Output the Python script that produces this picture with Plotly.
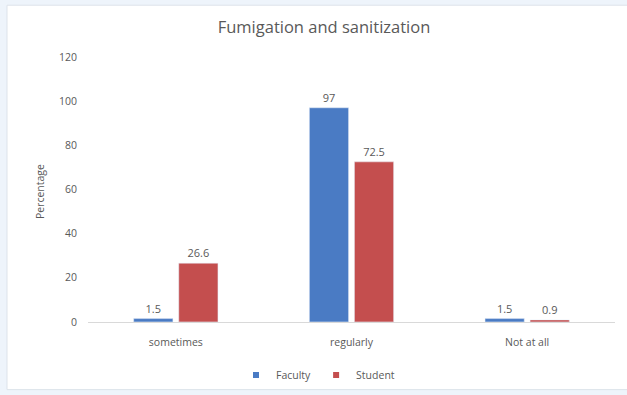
import plotly.graph_objects as go

categories = ["sometimes", "regularly", "Not at all"]
faculty = [1.5, 97, 1.5]
student = [26.6, 72.5, 0.9]
faculty_labels = ["1.5", "97", "1.5"]
student_labels = ["26.6", "72.5", "0.9"]

FONT = "Open Sans, sans-serif"
GRAY = "#595959"
BLUE = "#4a7bc4"
RED = "#c44e4e"

fig = go.Figure()
fig.add_trace(go.Bar(name="Faculty", x=categories, y=faculty, text=faculty_labels,
                     textposition="outside", marker_color=BLUE, showlegend=False,
                     textfont=dict(color=GRAY, size=11), cliponaxis=False))
fig.add_trace(go.Bar(name="Student", x=categories, y=student, text=student_labels,
                     textposition="outside", marker_color=RED, showlegend=False,
                     textfont=dict(color=GRAY, size=11), cliponaxis=False))
# legend entries with small square swatches
fig.add_trace(go.Scatter(name="Faculty", x=[None], y=[None], mode="markers",
                         marker=dict(symbol="square", size=6, color=BLUE)))
fig.add_trace(go.Scatter(name="Student", x=[None], y=[None], mode="markers",
                         marker=dict(symbol="square", size=6, color=RED)))

fig.update_layout(
    width=627, height=395,
    margin=dict(l=88, r=12, t=57, b=72),
    paper_bgcolor="#eef4fb",
    plot_bgcolor="rgba(0,0,0,0)",
    font=dict(family=FONT, color=GRAY, size=10.5),
    barmode="group", bargap=0.487, bargroupgap=0.13,
    title=dict(text="Fumigation and sanitization", x=324 / 627, xanchor="center",
               y=1 - 27 / 395, yanchor="middle", font=dict(size=16.5, color=GRAY)),
    legend=dict(orientation="h", xref="container", yref="container",
                x=318 / 627, xanchor="center", y=1 - 375 / 395, yanchor="middle",
                font=dict(size=10.5, color=GRAY), itemwidth=30, tracegroupgap=0,
                bgcolor="rgba(0,0,0,0)"),
    shapes=[dict(type="rect", xref="paper", yref="paper", x0=(7 - 88) / 527,
                 x1=(640 - 88) / 527, y0=(323 - 391) / 266, y1=(323 - 5) / 266,
                 fillcolor="white", line=dict(color="#dde3ea", width=1), layer="below")],
    annotations=[dict(text="Percentage", textangle=-90, xref="paper", yref="paper",
                      x=(40 - 88) / 527, y=0.49, xanchor="center", yanchor="middle",
                      showarrow=False, font=dict(size=10.5, color=GRAY))],
)
fig.update_yaxes(range=[0, 120], dtick=20, showgrid=False, zeroline=False,
                 showline=False, ticks="", ticklabelstandoff=10,
                 tickfont=dict(size=10.5, color=GRAY))
fig.update_xaxes(showline=True, linecolor="#d9d9d9", linewidth=1, ticks="",
                 ticklabelstandoff=10, tickfont=dict(size=10.5, color=GRAY))

fig.write_html("out.html")
